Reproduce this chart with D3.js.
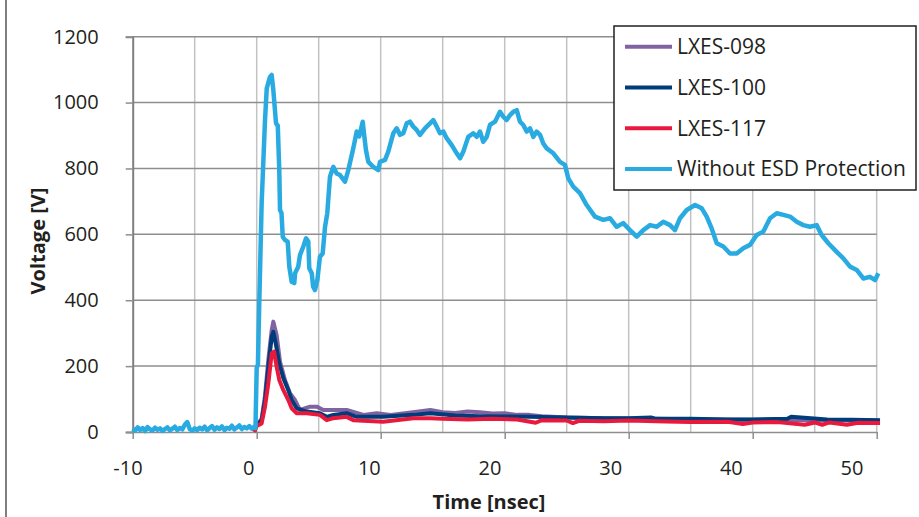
<!DOCTYPE html>
<html>
<head>
<meta charset="utf-8">
<script src="https://cdn.jsdelivr.net/npm/d3@7"></script>
<style>
  body { margin: 0; background: #fff; }
  svg { display: block; font-family: "Open Sans", sans-serif; }
</style>
</head>
<body>
<svg id="chart" width="919" height="517"></svg>
<script>
// valores (tempo em ns, tensao em V)
const xTicks = [-10, 0, 10, 20, 30, 40, 50]
const xGrid = [-5, 0, 5, 10, 15, 20, 25, 30, 35, 40, 45, 50]
const yTicks = [0, 200, 400, 600, 800, 1000, 1200]

const nomes = ["LXES-098", "LXES-100", "LXES-117", "Without ESD Protection"]
const cores = ["#8064a2", "#003c7a", "#e8193c", "#29abe2"]

// sem protecao - antes do pulso (ruido)
const tSemRuido = [-10, -9.8, -9.6, -9.4, -9.2, -9, -8.8, -8.6, -8.4, -8.2, -8, -7.8, -7.6, -7.4, -7.2, -7, -6.8, -6.6, -6.4, -6.2,
  -6, -5.8, -5.6, -5.4, -5.2, -5, -4.8, -4.6, -4.4, -4.2, -4, -3.8, -3.6, -3.4, -3.2, -3, -2.8, -2.6, -2.4, -2.2,
  -2, -1.8, -1.6, -1.4, -1.2, -1, -0.8, -0.6, -0.4, -0.2, -0.1]
const vSemRuido = [10, 4, 14, 6, 12, 3, 15, 8, 5, 13, 7, 11, 3, 9, 14, 5, 10, 16, 6, 12,
  8, 22, 30, 9, 4, 11, 6, 13, 8, 16, 5, 12, 18, 7, 14, 9, 17, 6, 13, 10,
  19, 8, 14, 20, 9, 15, 11, 18, 10, 16, 12]

// sem protecao - pulso
const tSem = [0, 0.1, 0.2, 0.4, 0.67, 0.81, 1.07, 1.21, 1.34, 1.56, 1.7, 1.82, 1.88, 2.0, 2.1, 2.28, 2.5, 2.63, 2.82, 3.03, 3.1, 3.35, 3.49, 3.76, 3.98, 4.16, 4.24, 4.44, 4.55, 4.7, 4.89,
  5.1, 5.32, 5.51, 5.69, 5.91, 6.18, 6.45, 6.72, 7.12, 7.39, 7.79, 8.06, 8.27, 8.55, 8.65, 8.81, 9.0, 9.4, 9.81, 9.94,
  10.35, 10.61, 11.02, 11.29, 11.56, 11.82, 12.1, 12.36, 12.63, 12.9, 13.17, 13.57, 13.98, 14.24, 14.52, 14.78,
  15.05, 15.32, 15.73, 16.13, 16.4, 16.66, 17.06, 17.47, 17.74, 18.01, 18.27, 18.55, 18.81, 19.22, 19.62, 19.89,
  20.16, 20.43, 20.69, 20.97, 21.23, 21.5, 21.77, 22.04, 22.31, 22.58, 22.85, 23.11, 23.39, 23.92, 24.46, 24.86,
  25.13, 25.53, 26.07, 26.61, 27.28, 27.95, 28.49, 29.03, 29.56, 30.1, 30.65, 31.18, 31.72, 32.26, 32.79, 33.33, 33.73,
  34.14, 34.68, 35.35, 35.89, 36.29, 36.69, 37.1, 37.63, 38.17, 38.71, 39.24, 39.78, 40.32, 40.85, 41.4, 41.94, 42.47,
  43.01, 43.55, 44.08, 44.62, 45.16, 45.56, 46.1, 46.77, 47.31, 47.85, 48.39, 48.92, 49.46, 49.87, 50.13]
const vSem = [195, 205, 380, 695, 947, 1043, 1078, 1084, 1038, 937, 930, 795, 674, 665, 593, 583, 578, 502, 456, 452, 483, 502, 537, 563, 588, 578, 497, 482, 441, 431, 461,
  532, 542, 623, 664, 775, 805, 785, 780, 760, 795, 861, 912, 897, 942, 907, 856, 820, 805, 795, 820,
  826, 851, 907, 922, 902, 907, 937, 942, 927, 917, 902, 922, 937, 947, 927, 907,
  912, 892, 871, 846, 831, 851, 896, 907, 896, 912, 881, 896, 932, 942, 972, 957,
  947, 962, 972, 977, 942, 932, 912, 922, 896, 912, 902, 876, 861, 846, 820, 811,
  770, 745, 725, 689, 654, 644, 649, 623, 634, 613, 593, 613, 628, 623, 638, 628, 613,
  649, 674, 689, 679, 654, 618, 573, 563, 542, 542, 558, 568, 598, 608, 649, 664, 659,
  654, 638, 628, 623, 628, 598, 573, 547, 527, 502, 492, 466, 471, 461, 482]

// LXES-098
const t098 = [-0.2, 0, 0.4, 0.67, 0.94, 1.21, 1.34, 1.61, 1.88, 2.28, 2.69, 3.09, 3.49, 4.3, 4.84, 5.37, 5.91, 7.26, 8.6, 9.68, 10.8, 12.6, 14, 15, 16, 17, 18, 19, 20, 21, 22, 23, 25, 28, 32, 36, 40, 45, 50.2]
const v098 = [2, 20, 40, 110, 220, 310, 335, 294, 213, 158, 117, 97, 67, 77, 77, 67, 67, 67, 52, 57, 52, 60, 67, 60, 58, 62, 60, 56, 57, 52, 52, 48, 44, 42, 40, 38, 37, 36, 35]

// LXES-100
const t100 = [-0.2, 0, 0.4, 0.67, 0.94, 1.21, 1.34, 1.56, 1.82, 2.15, 2.55, 2.82, 3.23, 4.03, 5.1, 5.65, 6.18, 7.26, 8.06, 10.21, 12.63, 14, 16, 18, 20, 22, 25, 28, 30, 31.8, 32.2, 35, 38, 40, 42.8, 43.1, 46, 48, 50.27]
const v100 = [2, 21, 36, 97, 198, 289, 304, 264, 208, 163, 127, 97, 72, 62, 57, 46, 52, 57, 46, 46, 52, 57, 50, 48, 47, 46, 44, 42, 42, 44, 40, 40, 38, 38, 40, 46, 38, 37, 36]

// LXES-117
const t117 = [-0.2, 0, 0.4, 0.67, 0.94, 1.21, 1.4, 1.61, 1.82, 2.15, 2.55, 2.82, 3.23, 4.03, 5.1, 5.65, 6.18, 7.26, 7.79, 10.21, 12.63, 14, 15, 17, 19, 21, 22.5, 23, 25, 25.5, 26, 28, 30, 33, 35, 38, 39.2, 40, 42, 44.2, 45, 45.6, 46.2, 47.6, 48.5, 50.27]
const v117 = [0, 18, 26, 77, 148, 239, 244, 198, 158, 127, 97, 72, 57, 57, 52, 36, 42, 46, 36, 31, 42, 42, 40, 38, 40, 38, 28, 36, 35, 27, 34, 33, 35, 32, 30, 31, 24, 29, 30, 22, 29, 22, 29, 22, 28, 27]

const series = [
  {nome: nomes[0], cor: cores[0], t: t098, v: v098, w: 4},
  {nome: nomes[1], cor: cores[1], t: t100, v: v100, w: 4},
  {nome: nomes[2], cor: cores[2], t: t117, v: v117, w: 4},
  {nome: nomes[3], cor: cores[3], t: tSemRuido.concat(tSem), v: vSemRuido.concat(vSem), w: 4.5}
]

const svg = d3.select("#chart")
const corTexto = "#231f20"

const x = d3.scaleLinear().domain([-10, 50]).range([132.7, 876.7])
const y = d3.scaleLinear().domain([0, 1200]).range([432, 36.7])
// os rotulos do eixo x no original ficam um pouco deslocados dos ticks
const xRotulo = d3.scaleLinear().domain([-10, 50]).range([128, 852])

// borda do grafico
svg.append("line")
  .attr("x1", 6).attr("x2", 6).attr("y1", 0).attr("y2", 517)
  .attr("stroke", "#555").attr("stroke-width", 1.5)

// grade vertical (a cada 5 ns)
svg.append("g")
  .selectAll("line")
  .data(xGrid)
  .join("line")
  .attr("x1", d => x(d)).attr("x2", d => x(d))
  .attr("y1", y(1200)).attr("y2", y(0))
  .attr("stroke", "#c3c3c3").attr("stroke-width", 1.5)

// grade horizontal
svg.append("g")
  .selectAll("line")
  .data(yTicks.filter(d => d > 0))
  .join("line")
  .attr("x1", x(-10)).attr("x2", x(50))
  .attr("y1", d => y(d)).attr("y2", d => y(d))
  .attr("stroke", "#8e8e8e").attr("stroke-width", 1.5)

// eixo y
const eixoY = svg.append("g")
  .attr("transform", `translate(${x(-10)},0)`)
  .call(d3.axisLeft(y).tickValues(yTicks).tickSize(7).tickPadding(27).tickFormat(d3.format("d")))
eixoY.select(".domain").attr("stroke", "#7f7f7f").attr("stroke-width", 2)
eixoY.selectAll(".tick line").attr("stroke", "#8e8e8e").attr("stroke-width", 1.5)
eixoY.selectAll(".tick text")
  .style("font-family", "Open Sans").style("font-size", "20px").attr("fill", corTexto)

// eixo x
const eixoX = svg.append("g")
  .attr("transform", `translate(0,${y(0)})`)
  .call(d3.axisBottom(x).tickValues(xTicks).tickSize(7).tickSizeOuter(0).tickFormat(""))
eixoX.select(".domain").attr("stroke", "#8e8e8e").attr("stroke-width", 1.5)
eixoX.selectAll(".tick line").attr("stroke", "#8e8e8e").attr("stroke-width", 1.5)

svg.append("g")
  .selectAll("text")
  .data(xTicks)
  .join("text")
  .attr("x", d => xRotulo(d))
  .attr("y", 475)
  .attr("text-anchor", "middle")
  .style("font-size", "20px")
  .attr("fill", corTexto)
  .text(d => d)

// titulos dos eixos
svg.append("text")
  .attr("transform", "translate(45,241) rotate(-90)")
  .attr("text-anchor", "middle")
  .style("font-size", "20px").style("font-weight", "bold")
  .attr("fill", corTexto)
  .text("Voltage [V]")

svg.append("text")
  .attr("x", 489).attr("y", 509)
  .attr("text-anchor", "middle")
  .style("font-size", "20px").style("font-weight", "bold")
  .attr("fill", corTexto)
  .text("Time [nsec]")

// curvas
const linha = d3.line()
  .x(d => x(d[0]))
  .y(d => y(d[1]))

svg.append("g")
  .selectAll("path")
  .data(series)
  .join("path")
  .attr("d", s => linha(d3.zip(s.t, s.v)))
  .attr("fill", "none")
  .attr("stroke", s => s.cor)
  .attr("stroke-width", s => s.w)
  .attr("stroke-linejoin", "round")

// legenda
const leg = svg.append("g")
leg.append("rect")
  .attr("x", 614).attr("y", 26).attr("width", 302).attr("height", 164)
  .attr("fill", "white").attr("stroke", corTexto).attr("stroke-width", 1.5)

const legY = d3.scalePoint().domain(nomes).range([46.7, 169])

const item = leg.selectAll("g.item")
  .data(series)
  .join("g")
  .attr("class", "item")
  .attr("transform", s => `translate(0,${legY(s.nome)})`)
item.append("line")
  .attr("x1", 625).attr("x2", 672)
  .attr("stroke", s => s.cor).attr("stroke-width", 4)
item.append("text")
  .attr("x", 677).attr("y", 0).attr("dy", "0.35em")
  .style("font-size", "21px")
  .attr("fill", corTexto)
  .text(s => s.nome)
</script>
</body>
</html>
